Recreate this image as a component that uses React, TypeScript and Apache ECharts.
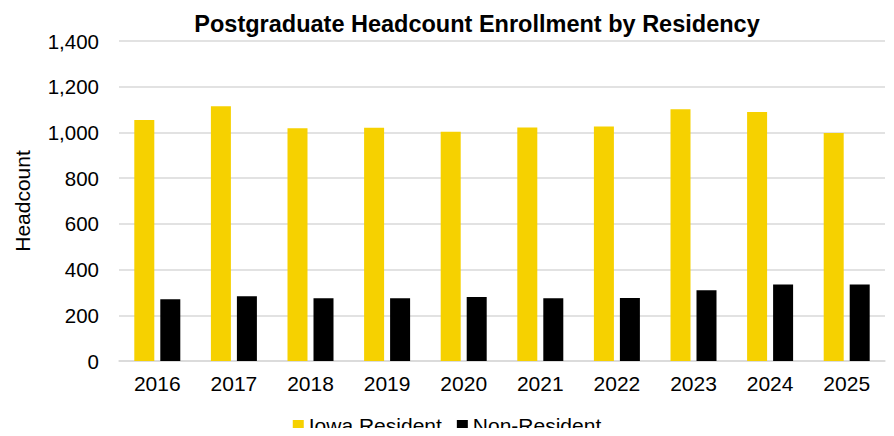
import React, { useEffect, useRef } from "react";
import * as echarts from "echarts";

const years = ["2016", "2017", "2018", "2019", "2020", "2021", "2022", "2023", "2024", "2025"];
const iowaResident = [1054, 1115, 1018, 1020, 1003, 1022, 1026, 1101, 1089, 998];
const nonResident = [270, 283, 275, 275, 280, 275, 276, 310, 335, 335];

const FONT = "'Liberation Sans', Arial, sans-serif";

export default function App() {
  const ref = useRef<HTMLDivElement>(null);
  useEffect(() => {
    const chart = echarts.init(ref.current!, null, { renderer: "svg" });
    chart.setOption({
      animation: false,
      textStyle: { fontFamily: FONT },
      title: {
        text: "Postgraduate Headcount Enrollment by Residency",
        left: 472,
        textAlign: "center",
        top: 7,
        textStyle: { fontFamily: FONT, fontSize: 23.5, fontWeight: "bold", color: "#000" },
      },
      legend: {
        top: 410,
        left: "center",
        itemWidth: 11,
        itemHeight: 11,
        itemGap: 15,
        icon: "rect",
        padding: [5, 5, 0, 5],
        textStyle: { fontFamily: FONT, fontSize: 21, color: "#000" },
        data: ["Iowa Resident", "Non-Resident"],
      },
      grid: { left: 119, right: 9, top: 41, bottom: 75, containLabel: false },
      xAxis: {
        type: "category",
        data: years,
        axisLine: { lineStyle: { color: "#d9d9d9", width: 1.5 } },
        axisTick: { show: false },
        axisLabel: { fontFamily: FONT, fontSize: 21, color: "#000", margin: 12 },
      },
      yAxis: {
        type: "value",
        min: 0,
        max: 1400,
        interval: 200,
        name: "Headcount",
        nameLocation: "middle",
        nameGap: 86,
        nameTextStyle: { fontFamily: FONT, fontSize: 21, color: "#000" },
        axisLabel: {
          fontFamily: FONT,
          fontSize: 20.5,
          color: "#000",
          margin: 20,
          formatter: (v: number) => v.toLocaleString("en-US"),
        },
        splitLine: { lineStyle: { color: "#d9d9d9", width: 1.5 } },
        axisLine: { show: false },
        axisTick: { show: false },
      },
      series: [
        {
          name: "Iowa Resident",
          type: "bar",
          data: iowaResident,
          barWidth: 20,
          barGap: "30%",
          itemStyle: { color: "#F6D100" },
        },
        {
          name: "Non-Resident",
          type: "bar",
          data: nonResident,
          barWidth: 20,
          itemStyle: { color: "#000000" },
        },
      ],
    });
    return () => chart.dispose();
  }, []);
  return <div ref={ref} style={{ width: 894, height: 436, margin: -8 }} />;
}
